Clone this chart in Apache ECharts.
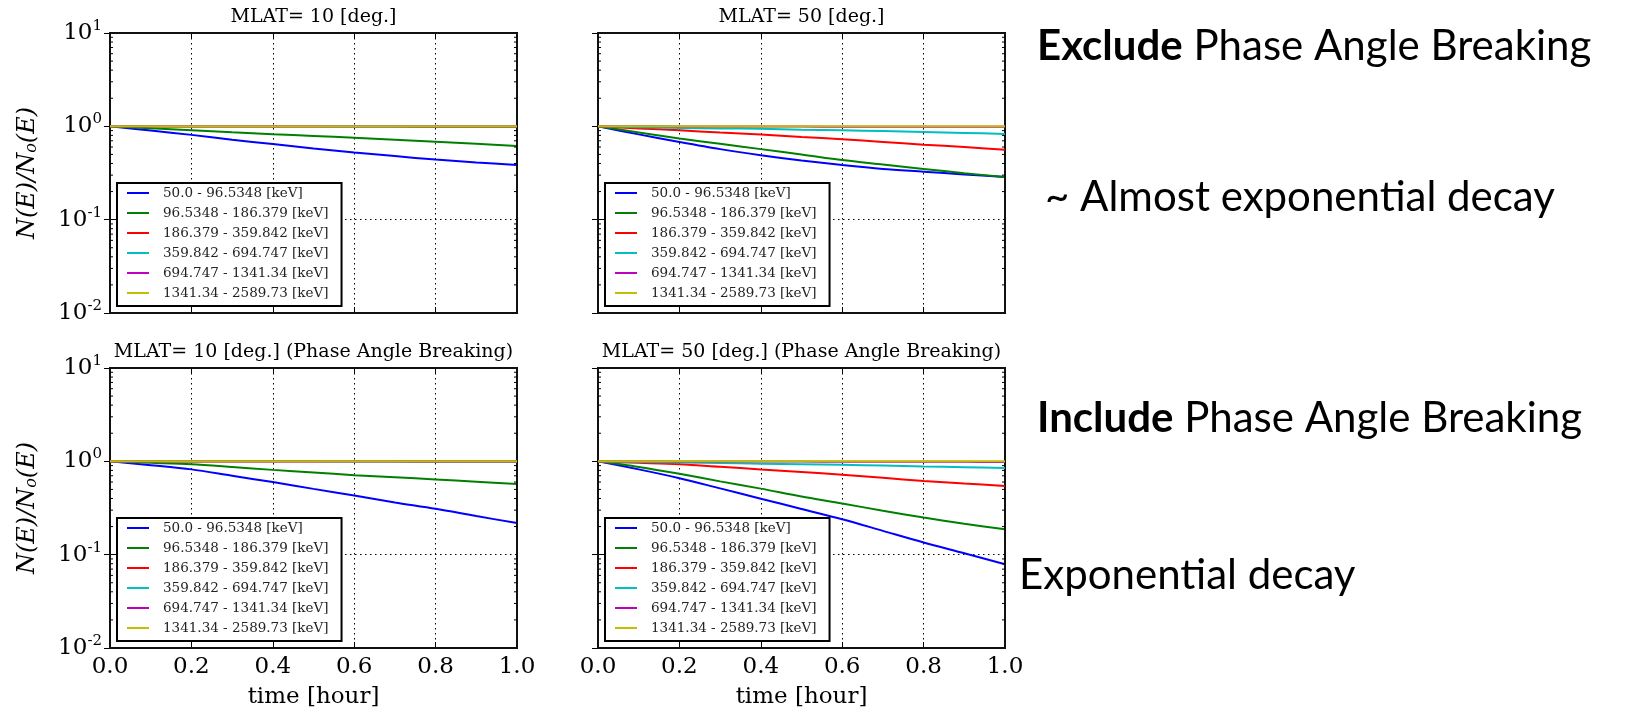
<!DOCTYPE html>
<html>
<head>
<meta charset="utf-8">
<script src="https://cdn.jsdelivr.net/npm/echarts@6/dist/echarts.min.js"></script>
<style>
  html, body { margin: 0; padding: 0; background: #fff; }
  #chart { width: 1631px; height: 712px; }
</style>
</head>
<body>
<div id="chart"></div>
<script>
// Time samples (hours)
const hours = [0, 0.1, 0.2, 0.3, 0.4, 0.5, 0.6, 0.7, 0.8, 0.9, 1.0];

// Energy bands
const bands = [
  '50.0 - 96.5348 [keV]',
  '96.5348 - 186.379 [keV]',
  '186.379 - 359.842 [keV]',
  '359.842 - 694.747 [keV]',
  '694.747 - 1341.34 [keV]',
  '1341.34 - 2589.73 [keV]'
];

// N(E)/No(E), MLAT = 10 deg, without phase angle breaking
const lat10Plain = [
  [1, 0.90, 0.81, 0.72, 0.645, 0.58, 0.525, 0.48, 0.44, 0.41, 0.385],
  [1, 0.955, 0.91, 0.865, 0.825, 0.79, 0.755, 0.72, 0.685, 0.65, 0.615],
  [1, 0.999, 0.998, 0.997, 0.996, 0.995, 0.994, 0.993, 0.992, 0.991, 0.99],
  [1, 1, 1, 0.999, 0.999, 0.999, 0.998, 0.998, 0.998, 0.997, 0.997],
  [1, 1, 1, 1, 1, 1, 1, 1, 1, 1, 1],
  [1, 1, 1, 1, 1, 1, 1, 1, 1, 1, 1]
];

// N(E)/No(E), MLAT = 50 deg, without phase angle breaking
const lat50Plain = [
  [1, 0.82, 0.68, 0.57, 0.49, 0.43, 0.385, 0.35, 0.327, 0.305, 0.286],
  [1, 0.86, 0.74, 0.65, 0.57, 0.50, 0.435, 0.39, 0.35, 0.315, 0.286],
  [1, 0.95, 0.906, 0.86, 0.82, 0.77, 0.726, 0.68, 0.636, 0.60, 0.56],
  [1, 0.98, 0.96, 0.95, 0.94, 0.92, 0.906, 0.89, 0.87, 0.85, 0.83],
  [1, 1, 0.998, 0.996, 0.994, 0.993, 0.991, 0.99, 0.989, 0.988, 0.987],
  [1, 1, 1, 1, 1, 1, 1, 1, 1, 1, 1]
];

// N(E)/No(E), MLAT = 10 deg, with phase angle breaking
const lat10Break = [
  [1, 0.91, 0.82, 0.70, 0.60, 0.507, 0.43, 0.363, 0.31, 0.259, 0.218],
  [1, 0.965, 0.93, 0.87, 0.81, 0.76, 0.71, 0.675, 0.64, 0.605, 0.57],
  [1, 0.999, 0.998, 0.997, 0.996, 0.995, 0.994, 0.993, 0.992, 0.991, 0.99],
  [1, 1, 1, 0.999, 0.999, 0.999, 0.998, 0.998, 0.998, 0.997, 0.997],
  [1, 1, 1, 1, 1, 1, 1, 1, 1, 1, 1],
  [1, 1, 1, 1, 1, 1, 1, 1, 1, 1, 1]
];

// N(E)/No(E), MLAT = 50 deg, with phase angle breaking
const lat50Break = [
  [1, 0.82, 0.66, 0.513, 0.398, 0.309, 0.24, 0.18, 0.135, 0.1035, 0.079],
  [1, 0.87, 0.735, 0.61, 0.51, 0.42, 0.354, 0.295, 0.25, 0.214, 0.187],
  [1, 0.965, 0.93, 0.875, 0.82, 0.77, 0.72, 0.665, 0.615, 0.578, 0.545],
  [1, 0.985, 0.97, 0.957, 0.945, 0.932, 0.92, 0.90, 0.88, 0.865, 0.85],
  [1, 1, 0.998, 0.996, 0.994, 0.993, 0.991, 0.99, 0.989, 0.987, 0.985],
  [1, 1, 1, 1, 1, 1, 1, 1, 1, 1, 1]
];

// Panel titles
const panelTitles = [
  'MLAT= 10 [deg.]',
  'MLAT= 50 [deg.]',
  'MLAT= 10 [deg.] (Phase Angle Breaking)',
  'MLAT= 50 [deg.] (Phase Angle Breaking)'
];

// Log-axis minor tick values (2..9 within each decade)
const minorTickValues = [
  0.02, 0.03, 0.04, 0.05, 0.06, 0.07, 0.08, 0.09,
  0.2, 0.3, 0.4, 0.5, 0.6, 0.7, 0.8, 0.9,
  2, 3, 4, 5, 6, 7, 8, 9
];

// Side notes
const sideNotes = [
  { bold: 'Exclude', rest: ' Phase Angle Breaking' },
  { bold: '', rest: '~ Almost exponential decay' },
  { bold: 'Include', rest: ' Phase Angle Breaking' },
  { bold: '', rest: 'Exponential decay' }
];

const lineColors = ['#0000ff', '#008000', '#ff0000', '#00bfbf', '#bf00bf', '#bfbf00'];
const serif = 'DejaVu Serif';

const panels = [
  { data: lat10Plain, left: 110, top: 33, xLabels: false, yLabels: true },
  { data: lat50Plain, left: 598, top: 33, xLabels: false, yLabels: false },
  { data: lat10Break, left: 110, top: 368, xLabels: true, yLabels: true },
  { data: lat50Break, left: 598, top: 368, xLabels: true, yLabels: false }
];
const PW = 407, PH = 280;

const option = {
  animation: false,
  backgroundColor: '#fff',
  title: [], grid: [], xAxis: [], yAxis: [], series: [], legend: [], graphic: []
};

panels.forEach((p, i) => {
  option.title.push({
    text: panelTitles[i],
    left: p.left + PW / 2,
    top: p.top - 26,
    textAlign: 'center',
    padding: 0,
    textStyle: { fontFamily: serif, fontSize: 19, fontWeight: 'normal', color: '#000', lineHeight: 21 }
  });

  option.grid.push({
    left: p.left, top: p.top, width: PW, height: PH,
    show: true, borderColor: '#111', borderWidth: 2, backgroundColor: 'transparent', z: 5
  });

  const tick = { show: true, inside: true, length: 6, lineStyle: { color: '#000', width: 1 } };
  const dotted = { show: true, lineStyle: { color: '#000', width: 1, type: [1.5, 3.5] } };

  option.xAxis.push({
    type: 'value', gridIndex: i, min: 0, max: 1, interval: 0.2, position: 'bottom',
    axisLine: { show: false }, axisTick: tick, splitLine: dotted,
    axisLabel: {
      show: p.xLabels, margin: 8, fontFamily: serif, fontSize: 23, color: '#000',
      formatter: v => v.toFixed(1)
    },
    name: p.xLabels ? 'time [hour]' : '', nameLocation: 'middle', nameGap: 38,
    nameTextStyle: { fontFamily: serif, fontSize: 23, color: '#000' }
  });
  option.xAxis.push({
    type: 'value', gridIndex: i, min: 0, max: 1, interval: 0.2, position: 'top',
    axisLine: { show: false }, axisTick: tick, splitLine: { show: false }, axisLabel: { show: false }
  });

  option.yAxis.push({
    type: 'log', logBase: 10, gridIndex: i, min: 0.01, max: 10, position: 'left',
    axisLine: { show: false }, axisTick: tick, splitLine: dotted,
    axisLabel: {
      show: p.yLabels, margin: 8, color: '#000',
      formatter: v => '{b|10}{s|' + Math.round(Math.log10(v)) + '}',
      rich: {
        b: { fontFamily: serif, fontSize: 23, color: '#000' },
        s: { fontFamily: serif, fontSize: 15, color: '#000', padding: [0, 0, 14, 0] }
      }
    },
    name: p.yLabels ? '{i|N(E)/N}{o|o}{i|(E)}' : '', nameLocation: 'middle', nameGap: 70,
    nameTextStyle: {
      rich: {
        i: { fontFamily: serif, fontStyle: 'italic', fontSize: 24, color: '#000' },
        o: { fontFamily: serif, fontStyle: 'italic', fontSize: 16, color: '#000', padding: [8, 0, 0, 0] }
      }
    }
  });
  option.yAxis.push({
    type: 'log', logBase: 10, gridIndex: i, min: 0.01, max: 10, position: 'right',
    axisLine: { show: false }, axisTick: tick, splitLine: { show: false }, axisLabel: { show: false }
  });

  // curves
  p.data.forEach((vals, j) => {
    option.series.push({
      type: 'line', name: bands[j], xAxisIndex: 2 * i, yAxisIndex: 2 * i,
      data: hours.map((h, k) => [h, vals[k]]),
      showSymbol: false, symbol: 'none', smooth: 0.3, silent: true,
      color: lineColors[j],
      lineStyle: { width: 2, color: lineColors[j] },
      itemStyle: { color: lineColors[j] },
      z: 3 + j
    });
  });

  // minor ticks on the left and right edges of the log axis
  option.series.push({
    type: 'custom', xAxisIndex: 2 * i, yAxisIndex: 2 * i, silent: true, clip: false, z: 20,
    data: minorTickValues.map(v => [0, v]),
    renderItem: (params, api) => {
      const v = api.value(1);
      const l = api.coord([0, v]);
      const r = api.coord([1, v]);
      return {
        type: 'group',
        children: [
          { type: 'line', shape: { x1: l[0], y1: l[1], x2: l[0] + 3, y2: l[1] }, style: { stroke: '#000', lineWidth: 1 } },
          { type: 'line', shape: { x1: r[0] - 3, y1: r[1], x2: r[0], y2: r[1] }, style: { stroke: '#000', lineWidth: 1 } }
        ]
      };
    }
  });

  option.legend.push({
    data: bands, orient: 'vertical', left: p.left + 7, top: p.top + 150,
    icon: 'rect', itemWidth: 22, itemHeight: 2, itemGap: 6,
    padding: [3, 13, 6, 10], backgroundColor: '#fff', borderColor: '#000', borderWidth: 2,
    selectedMode: false, z: 10,
    textStyle: { fontFamily: serif, fontSize: 13.5, color: '#222', lineHeight: 14, padding: [0, 0, 0, 9] }
  });
});

// side notes
const notePos = [[1037, 52], [1045, 203], [1037, 424], [1019, 581]];
sideNotes.forEach((n, k) => {
  option.graphic.push({
    type: 'text', left: notePos[k][0], top: notePos[k][1] - 27,
    style: {
      text: (n.bold ? '{b|' + n.bold + '}' : '') + '{n|' + n.rest + '}',
      rich: {
        b: { fontFamily: 'Lato', fontSize: 42, fontWeight: 'bold', fill: '#000' },
        n: { fontFamily: 'Lato', fontSize: 42, fill: '#000' }
      }
    }
  });
});

const chart = echarts.init(document.getElementById('chart'), null, { renderer: 'canvas' });
chart.setOption(option);
</script>
</body>
</html>
